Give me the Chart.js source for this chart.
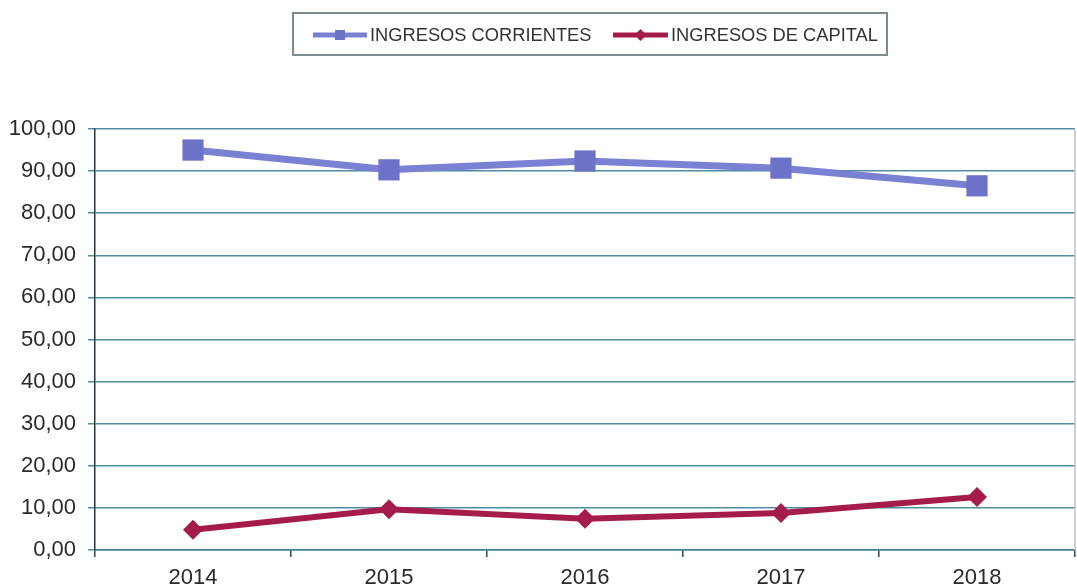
<!DOCTYPE html>
<html>
<head>
<meta charset="utf-8">
<script src="https://cdn.jsdelivr.net/npm/chart.js@4.4.0/dist/chart.umd.min.js"></script>
<style>
  html, body { margin: 0; padding: 0; background: #fff; }
  #wrap { position: relative; width: 1077px; height: 588px; }
  #legend {
    position: absolute; left: 292px; top: 12px; width: 596px; height: 44px;
    box-sizing: border-box; border: 2px solid #7d8c92;
    font-family: "Liberation Sans", Arial, sans-serif; font-size: 18.3px; color: #333;
  }
  .item { position: absolute; top: 10px; display: flex; align-items: center; height: 22px; }
  .item svg { margin-right: 3px; }
</style>
</head>
<body>
<div id="wrap">
  <canvas id="chart" width="1077" height="588"></canvas>
  <div id="legend"></div>
</div>
<script>
// chart data
const years = ["2014", "2015", "2016", "2017", "2018"];
const corrientes = [95.0, 90.3, 92.4, 90.7, 86.5];
const capital = [4.8, 9.7, 7.4, 8.8, 12.6];
const yTicks = [0, 10, 20, 30, 40, 50, 60, 70, 80, 90, 100];

const blue = "#7a80d2";
const blueMark = "#6c72c8";
const red = "#a51b4b";

// html legend with line + marker icons
const legendItems = [
  { label: "INGRESOS CORRIENTES", color: blue, mark: "square", left: 19, w: 54 },
  { label: "INGRESOS DE CAPITAL", color: red, mark: "diamond", left: 319, w: 55 }
];
const legend = document.getElementById("legend");
legendItems.forEach(it => {
  const div = document.createElement("div");
  div.className = "item";
  div.style.left = it.left + "px";
  const m = it.w / 2;
  const marker = it.mark === "square"
    ? `<rect x="${m - 5}" y="6" width="10" height="10" fill="${blueMark}"/>`
    : `<polygon points="${m},5 ${m + 6},11 ${m},17 ${m - 6},11" fill="${it.color}"/>`;
  div.innerHTML = `<svg width="${it.w}" height="22"><line x1="0" y1="11" x2="${it.w}" y2="11" stroke="${it.color}" stroke-width="5"/>${marker}</svg><span>${it.label}</span>`;
  legend.appendChild(div);
});

// thin border on the right side of the plot
const rightEdge = {
  id: "rightEdge",
  afterDraw(chart) {
    const a = chart.chartArea, ctx = chart.ctx;
    ctx.save();
    ctx.strokeStyle = "#b9c3c6";
    ctx.lineWidth = 1.5;
    ctx.beginPath();
    ctx.moveTo(a.right, a.top);
    ctx.lineTo(a.right, a.bottom);
    ctx.stroke();
    ctx.restore();
  }
};

new Chart(document.getElementById("chart"), {
  type: "line",
  data: {
    labels: years,
    datasets: [{
      label: "INGRESOS CORRIENTES",
      data: corrientes,
      borderColor: blue,
      backgroundColor: blueMark,
      pointBorderColor: blueMark,
      borderWidth: 7,
      pointStyle: "rect",
      pointRadius: 15,
      pointBorderWidth: 0,
      tension: 0
    }, {
      label: "INGRESOS DE CAPITAL",
      data: capital,
      borderColor: red,
      backgroundColor: red,
      pointBorderColor: red,
      borderWidth: 6,
      pointStyle: "rectRot",
      pointRadius: 10,
      pointBorderWidth: 0,
      tension: 0
    }]
  },
  options: {
    responsive: false,
    animation: false,
    layout: { autoPadding: false, padding: { top: 129, right: 2, left: 0, bottom: 0 } },
    plugins: {
      legend: { display: false },
      tooltip: { enabled: false }
    },
    scales: {
      x: {
        offset: true,
        grid: { offset: true, drawOnChartArea: false, drawTicks: true, tickLength: 7, color: "#2d4a55", lineWidth: 1.5 },
        border: { color: "#3f7f92", width: 1.5 },
        ticks: { color: "#2a2a2a", font: { family: "Liberation Sans, Arial, sans-serif", size: 22 }, padding: 8, maxRotation: 0 },
        afterFit(scale) { scale.height = 38; scale.paddingLeft = 0; scale.paddingRight = 0; }
      },
      y: {
        min: 0,
        max: 100,
        afterBuildTicks(scale) { scale.ticks = yTicks.map(v => ({ value: v })); },
        grid: { color: "#4f8da0", lineWidth: 1.5, tickLength: 7 },
        border: { color: "#24363d", width: 1.5 },
        ticks: {
          color: "#2a2a2a",
          font: { family: "Liberation Sans, Arial, sans-serif", size: 22 },
          padding: 12,
          callback: v => v.toFixed(2).replace(".", ",")
        },
        afterFit(scale) { scale.width = 95; }
      }
    }
  },
  plugins: [rightEdge]
});
</script>
</body>
</html>
